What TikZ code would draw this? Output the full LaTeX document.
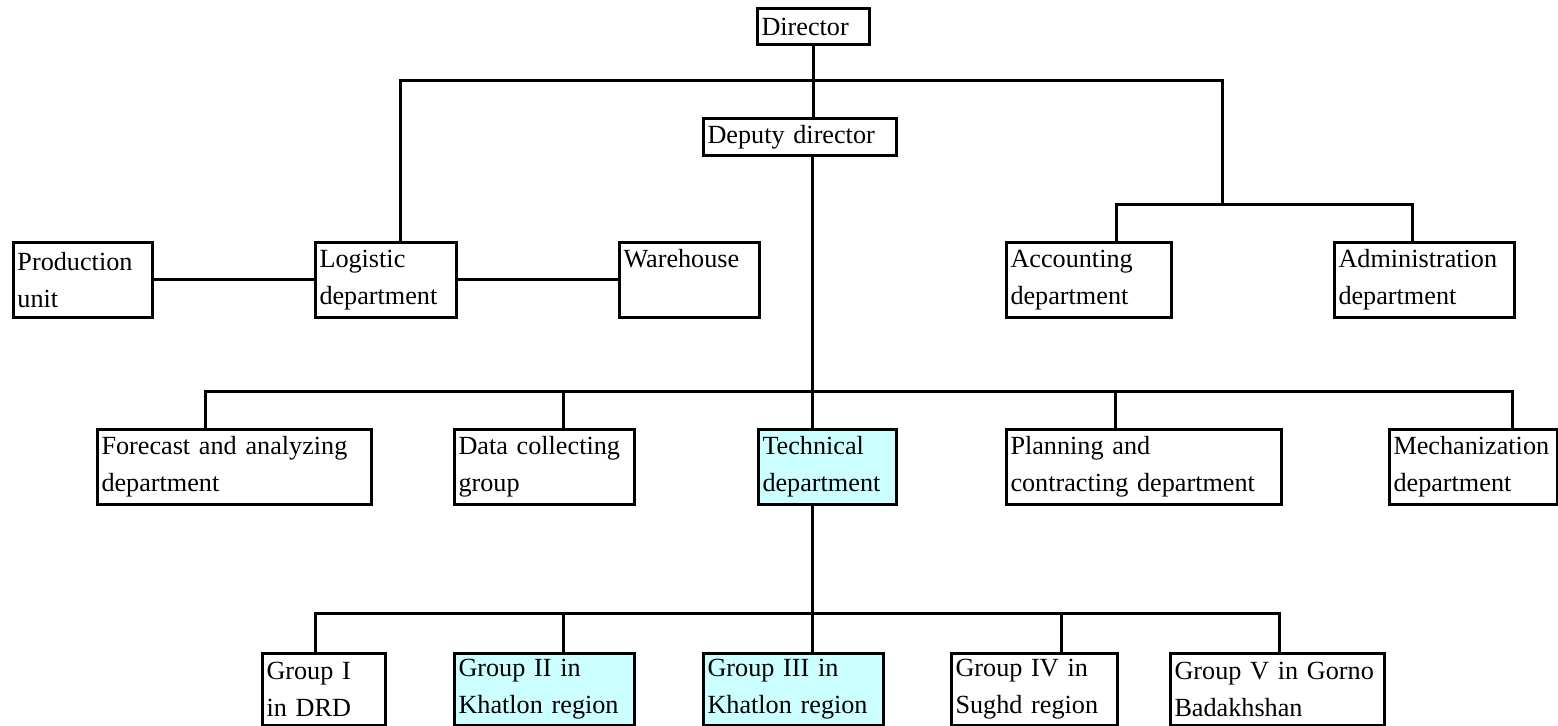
\documentclass[tikz,border=0pt]{standalone}
\usepackage{fontspec}
\setmainfont{Liberation Serif}
\usetikzlibrary{positioning,calc}
\definecolor{ink}{HTML}{000000}
\definecolor{techcyan}{HTML}{CCFFFF}
\tikzset{
  unitbox/.style = {rectangle, draw=ink, line width=1.5pt, anchor=north west, align=left,
                    inner xsep=2pt, inner ysep=0pt, font=\fontsize{13.1}{18.5}\selectfont},
  hilite/.style  = {unitbox, fill=techcyan},
  tie/.style     = {line width=1.5pt, draw=ink}
}

\begin{document}
\begin{tikzpicture}[x=0.5pt, y=-0.5pt]
  \useasboundingbox (0,0) rectangle (1558,726);

  % top
  \node[unitbox, text width=52pt, minimum height=18pt] (dir) at (756,7) {Director};
  \node[unitbox, text width=92.5pt, minimum height=18.5pt] (dep) at (702,117) {Deputy director};

  % second row
  \node[unitbox, text width=65.5pt, minimum height=37.5pt] (prod) at (12,241) {Production\\unit};
  \node[unitbox, text width=66.5pt, minimum height=37.5pt] (logi) at (314,241) {Logistic\\department};
  \node[unitbox, text width=66pt, minimum height=37.5pt] (ware) at (618,241) {Warehouse\\\phantom{department}};
  \node[unitbox, text width=78.5pt, minimum height=37.5pt] (acct) at (1005,241) {Accounting\\department};
  \node[unitbox, text width=86pt, minimum height=37.5pt] (admn) at (1333,241) {Administration\\department};

  % departments
  \node[unitbox, text width=133pt, minimum height=37.5pt] (fore) at (96,428) {Forecast and analyzing\\department};
  \node[unitbox, text width=86pt, minimum height=37.5pt] (data) at (453,428) {Data collecting\\group};
  \node[hilite, text width=65pt, minimum height=37.5pt] (tech) at (757,428) {Technical\\department};
  \node[unitbox, text width=133.5pt, minimum height=37.5pt] (plan) at (1005,428) {Planning and\\contracting department};
  \node[unitbox, text width=80pt, minimum height=37.5pt] (mech) at (1388,428) {Mechanization\\department};

  % groups
  \node[unitbox, text width=57.5pt, minimum height=36pt] (g1) at (261,652) {Group I\\in DRD};
  \node[hilite, text width=86pt, minimum height=36pt] (g2) at (453,652) {Group II in\\Khatlon region};
  \node[hilite, text width=86pt, minimum height=36pt] (g3) at (702,652) {Group III in\\Khatlon region};
  \node[unitbox, text width=79pt, minimum height=36pt] (g4) at (950,652) {Group IV in\\Sughd region};
  \node[unitbox, text width=103pt, minimum height=36pt] (g5) at (1169,652) {Group V in Gorno\\Badakhshan};

  % links
  \coordinate (lbr) at (400,81);
  \coordinate (rbr) at (1222,81);
  \coordinate (rbus) at (1222,205);
  \coordinate (acct-up) at (1116,205);
  \coordinate (admn-up) at (1412,205);
  \draw[tie] (dir.south) -- (dir.south |- dep.north);
  \draw[tie] (lbr |- logi.north) -- (lbr) -- (rbr) -- (rbus);
  \draw[tie] (acct-up |- acct.north) -- (acct-up) -- (admn-up) -- (admn-up |- admn.north);
  \draw[tie] (prod) -- (logi);
  \draw[tie] (logi) -- (ware);

  \foreach \n/\x in {fore/205, data/563, tech/812, plan/1115, mech/1512}
    \coordinate (\n-up) at (\x,392);
  \draw[tie] (fore-up |- fore.north) -- (fore-up) -- (mech-up) -- (mech-up |- mech.north);
  \foreach \n in {data, tech, plan}
    \draw[tie] (\n-up) -- (\n-up |- \n.north);
  \draw[tie] (tech-up |- dep.south) -- (tech-up);

  \foreach \n/\x in {g1/315, g2/563, g3/812, g4/1061, g5/1279}
    \coordinate (\n-up) at (\x,614);
  \draw[tie] (g1-up |- g1.north) -- (g1-up) -- (g5-up) -- (g5-up |- g5.north);
  \foreach \n in {g2, g3, g4}
    \draw[tie] (\n-up) -- (\n-up |- \n.north);
  \draw[tie] (g3-up |- tech.south) -- (g3-up);
\end{tikzpicture}
\end{document}
